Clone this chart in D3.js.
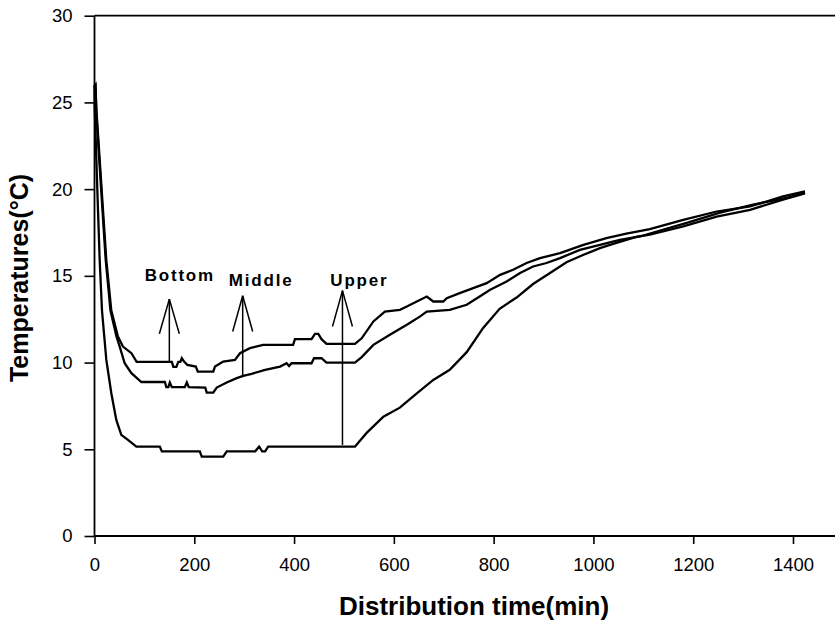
<!DOCTYPE html>
<html>
<head>
<meta charset="utf-8">
<script src="https://cdn.jsdelivr.net/npm/d3@7"></script>
<style>
  html, body { margin: 0; padding: 0; background: #fff; }
  svg { display: block; }
  text { font-family: "Liberation Sans", Arial, sans-serif; fill: #000; }
</style>
</head>
<body>
<svg id="chart" width="835" height="624"></svg>
<script>
// ---- data (time in min, temperature in °C) ----
const xTicks = [0, 200, 400, 600, 800, 1000, 1200, 1400];
const yTicks = [0, 5, 10, 15, 20, 25, 30];

const bottomSeries = [
  [0, 25.9], [2, 26.0], [3.7, 24.6], [10.4, 21.7], [17, 18.8], [23.7, 15.9], [33.7, 13.0],
  [47, 11.5], [57, 10.92], [74, 10.54], [84.5, 10.04], [155, 10.04], [158, 9.75], [164, 9.75],
  [168, 10.04], [172, 10.04], [175, 10.25], [180, 10.04], [186, 9.87], [203, 9.77], [207, 9.48],
  [238, 9.48], [241.5, 9.77], [258, 10.06], [281.5, 10.15], [291.6, 10.54], [311.6, 10.83],
  [338, 11.02], [398, 11.02], [401.8, 11.35], [435, 11.35], [442, 11.65], [448.5, 11.65],
  [455, 11.35], [465, 11.08], [522, 11.08], [535.5, 11.4], [559, 12.37], [582, 12.94],
  [612, 13.04], [626, 13.23], [646, 13.52], [666, 13.81], [679, 13.52], [699, 13.52],
  [706, 13.71], [732, 14.0], [759, 14.29], [786, 14.58], [813, 15.06], [839, 15.35],
  [866, 15.74], [893, 16.02], [933, 16.31], [980, 16.79], [1026, 17.18], [1066, 17.43],
  [1113, 17.7], [1180, 18.23], [1247, 18.71], [1314, 19.0], [1380, 19.58], [1424, 19.87]
];

const middleSeries = [
  [0, 25.8], [2, 25.9], [3.7, 24.4], [9.5, 21.7], [16, 18.8], [22.5, 15.9], [32, 13.0],
  [44, 11.5], [50.5, 10.92], [60.5, 9.96], [74, 9.39], [94, 8.88], [141, 8.88], [144, 8.58],
  [148, 8.58], [151, 8.85], [155, 8.58], [181, 8.58], [185, 8.85], [189, 8.58], [222, 8.56],
  [225, 8.27], [238, 8.27], [245, 8.56], [265, 8.85], [285, 9.1], [298, 9.23], [315, 9.35],
  [342, 9.58], [372, 9.77], [385, 9.96], [390, 9.8], [395, 9.96], [435, 9.96], [440, 10.25],
  [455, 10.25], [465, 10.0], [522, 10.0], [535, 10.3], [559, 11.02], [592, 11.6],
  [626, 12.18], [652, 12.65], [666, 12.94], [712, 13.04], [746, 13.33], [772, 13.81],
  [793, 14.2], [826, 14.67], [853, 15.16], [879, 15.54], [906, 15.74], [933, 16.02],
  [973, 16.5], [1013, 16.79], [1053, 17.08], [1093, 17.27], [1120, 17.5], [1187, 18.05],
  [1254, 18.65], [1320, 19.1], [1387, 19.5], [1424, 19.8]
];

const upperSeries = [
  [0, 26.0], [0.5, 24.6], [3.7, 21.7], [7, 18.8], [10.4, 15.9], [15, 13.0], [23.7, 10.15],
  [33.7, 8.23], [43.7, 6.69], [53.7, 5.83], [67, 5.54], [84, 5.15], [131, 5.15], [135, 4.88],
  [211, 4.88], [215, 4.58], [258, 4.58], [265, 4.88], [322, 4.88], [330, 5.15], [336, 4.88],
  [342, 4.88], [348, 5.15], [522, 5.15], [545, 5.93], [579, 6.88], [612, 7.4], [646, 8.23],
  [679, 9.0], [712, 9.58], [746, 10.6], [779, 12.0], [812, 13.1], [846, 13.75], [879, 14.53],
  [913, 15.16], [946, 15.78], [979, 16.2], [1013, 16.6], [1046, 16.9], [1086, 17.25],
  [1113, 17.37], [1180, 17.85], [1247, 18.42], [1314, 18.81], [1380, 19.39], [1424, 19.75]
];

// annotation: label, arrow time, arrow base temp, arrow tip temp, barb temp, label time, label temp
const annotations = [
  { label: "Bottom", t: 150, base: 10.04, tip: 13.66, barb: 11.66, lt: 171, lT: 14.73 },
  { label: "Middle", t: 297, base: 9.19,  tip: 13.85, barb: 11.79, lt: 334, lT: 14.43 },
  { label: "Upper",  t: 497, base: 5.25,  tip: 14.15, barb: 12.08, lt: 531, lT: 14.43 }
];

// ---- layout ----
const W = 835, H = 624;
const svg = d3.select("#chart");
const x = d3.scaleLinear().domain([0, 1400]).range([94.5, 793]);
const y = d3.scaleLinear().domain([0, 30]).range([536, 15.7]);

// frame lines
svg.append("line").attr("x1", x(0)).attr("x2", W).attr("y1", y(30)).attr("y2", y(30))
  .attr("stroke", "#000").attr("stroke-width", 1.8);
svg.append("line").attr("x1", x(0)).attr("x2", W).attr("y1", y(0)).attr("y2", y(0))
  .attr("stroke", "#000").attr("stroke-width", 1.8);
svg.append("line").attr("x1", x(0)).attr("x2", x(0)).attr("y1", y(0)).attr("y2", y(30))
  .attr("stroke", "#000").attr("stroke-width", 1.8);

// axes
const yAxis = d3.axisLeft(y).tickValues(yTicks).tickFormat(d3.format("d"))
  .tickSize(10).tickSizeOuter(0).tickPadding(12);
const gy = svg.append("g").attr("transform", `translate(${x(0)},0)`).call(yAxis);
gy.select(".domain").remove();
gy.selectAll(".tick line").attr("stroke", "#000").attr("stroke-width", 1.6);
gy.selectAll(".tick text").attr("font-size", 18.5).attr("font-family", "Liberation Sans, Arial, sans-serif");

const xAxis = d3.axisBottom(x).tickValues(xTicks).tickFormat(d3.format("d"))
  .tickSize(8).tickSizeOuter(0).tickPadding(14);
const gx = svg.append("g").attr("transform", `translate(0,${y(0)})`).call(xAxis);
gx.select(".domain").remove();
gx.selectAll(".tick line").attr("stroke", "#000").attr("stroke-width", 1.6);
gx.selectAll(".tick text").attr("font-size", 18.5).attr("font-family", "Liberation Sans, Arial, sans-serif");

// series
const line = d3.line().x(d => x(d[0])).y(d => y(d[1])).curve(d3.curveLinear);
[bottomSeries, middleSeries, upperSeries].forEach(s => {
  svg.append("path").datum(s).attr("d", line)
    .attr("fill", "none").attr("stroke", "#000").attr("stroke-width", 2.3)
    .attr("stroke-linejoin", "miter");
});

// annotations
const barbDx = 20; // minutes
annotations.forEach(a => {
  const g = svg.append("g").attr("stroke", "#000").attr("stroke-width", 1.5).attr("fill", "none");
  g.append("line").attr("x1", x(a.t)).attr("x2", x(a.t)).attr("y1", y(a.base)).attr("y2", y(a.tip));
  g.append("line").attr("x1", x(a.t)).attr("x2", x(a.t - barbDx)).attr("y1", y(a.tip)).attr("y2", y(a.barb));
  g.append("line").attr("x1", x(a.t)).attr("x2", x(a.t + barbDx)).attr("y1", y(a.tip)).attr("y2", y(a.barb));
  svg.append("text").attr("x", x(a.lt)).attr("y", y(a.lT))
    .attr("text-anchor", "middle").attr("font-size", 17).attr("font-weight", "bold")
    .attr("letter-spacing", 1.8).text(a.label);
});

// axis titles
svg.append("text").attr("x", 474).attr("y", 615).attr("text-anchor", "middle")
  .attr("font-size", 26).attr("font-weight", "bold").text("Distribution time(min)");
svg.append("text").attr("transform", "translate(28,278) rotate(-90)").attr("text-anchor", "middle")
  .attr("font-size", 25).attr("font-weight", "bold").text("Temperatures(°C)");
</script>
</body>
</html>
